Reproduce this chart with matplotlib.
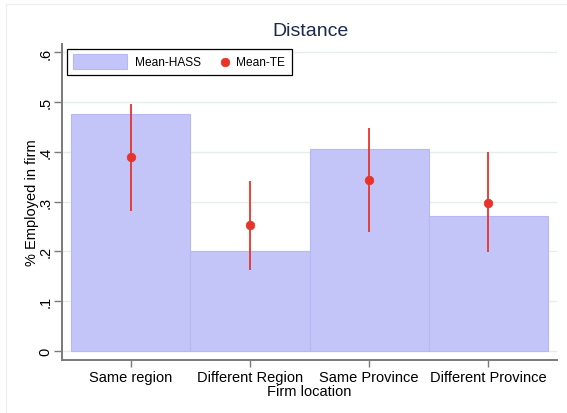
import matplotlib
matplotlib.use("Agg")
import matplotlib.pyplot as plt
from matplotlib.patches import Rectangle

plt.rcParams['font.family'] = ['Liberation Sans', 'DejaVu Sans']

categories = ["Same region", "Different Region", "Same Province", "Different Province"]
mean_hass = [0.476, 0.2005, 0.4056, 0.271]
mean_te = [0.389, 0.253, 0.343, 0.298]
te_low = [0.2815, 0.163, 0.238, 0.198]
te_high = [0.496, 0.342, 0.449, 0.399]
yticks = [0, 0.1, 0.2, 0.3, 0.4, 0.5, 0.6]
ytick_labels = ["0", ".1", ".2", ".3", ".4", ".5", ".6"]
legend_labels = ["Mean-HASS", "Mean-TE"]

W, H = 567, 414
fig = plt.figure(figsize=(W / 100, H / 100), dpi=100)
fig.patch.set_facecolor("white")


def fx(px):
    return px / W


def fy(py):
    return 1 - py / H


# faint outer graph border
fig.add_artist(Rectangle((fx(6), 0), 1, fy(5), transform=fig.transFigure,
                         fill=False, edgecolor="#eeeeee", lw=0.8))

left, right, bottom, top = 62, 557, 361, 45
ax = fig.add_axes([fx(left), fy(bottom), (right - left) / W, (bottom - top) / H])

x = list(range(1, len(categories) + 1))
bar_color = "#c3c4f8"
bar_edge = "#b6b8f5"
ax.bar(x, mean_hass, width=1.0, color=bar_color, edgecolor=bar_edge, linewidth=0.8, zorder=2)

red = "#e8332a"
for xi, lo, hi in zip(x, te_low, te_high):
    ax.plot([xi, xi], [lo, hi], color=red, lw=1.3, zorder=3, solid_capstyle="butt")
ax.plot(x, mean_te, linestyle="none", marker="o", markersize=6.2, color=red,
        markeredgecolor=red, markeredgewidth=0.5, zorder=4)

ax.set_xlim(0.4245, 4.5755)
ax.set_ylim(-0.0187, 0.617)
ax.set_yticks(yticks)
ax.set_yticklabels(ytick_labels, rotation=90, va="center", fontsize=10.5)
ax.set_xticks(x)
ax.set_xticklabels(categories, fontsize=10.5)
ax.grid(axis="y", color="#e6eeec", lw=1.0, zorder=0)
ax.set_axisbelow(True)

for s in ["top", "right"]:
    ax.spines[s].set_visible(False)
for s in ["left", "bottom"]:
    ax.spines[s].set_color("#7a7a7a")
    ax.spines[s].set_linewidth(1.4)
ax.tick_params(axis="x", direction="out", length=5, width=1.0, color="#7a7a7a",
               labelcolor="black", pad=2)
ax.tick_params(axis="y", direction="out", length=6, width=1.0, color="#7a7a7a",
               labelcolor="black", pad=1)

ax.set_xlabel("Firm location", fontsize=10.5, labelpad=0)
fig.text(fx(32), fy(203), "% Employed in firm", rotation=90, ha="center", va="center",
         fontsize=10.5)

fig.text(fx(310), fy(31), "Distance", ha="center", va="center", fontsize=14,
         color="#1b2a4e")

# legend drawn manually to match layout
fig.add_artist(Rectangle((fx(67), fy(76)), (292 - 67) / W, (76 - 50) / H,
                         transform=fig.transFigure, facecolor="white",
                         edgecolor="black", lw=0.9, zorder=5))
fig.add_artist(Rectangle((fx(73), fy(70)), (127 - 73) / W, (70 - 55) / H,
                         transform=fig.transFigure, facecolor=bar_color,
                         edgecolor=bar_edge, lw=0.8, zorder=6))
fig.text(fx(135), fy(63.5), legend_labels[0], ha="left", va="center", fontsize=8.6, zorder=6)
fig.add_artist(plt.Line2D([fx(225)], [fy(63)], transform=fig.transFigure, linestyle="none",
                          marker="o", markersize=6.2, color=red, markeredgecolor=red,
                          markeredgewidth=0.5, zorder=6))
fig.text(fx(236), fy(63.5), legend_labels[1], ha="left", va="center", fontsize=8.6, zorder=6)

fig.savefig("out.png", dpi=100)
